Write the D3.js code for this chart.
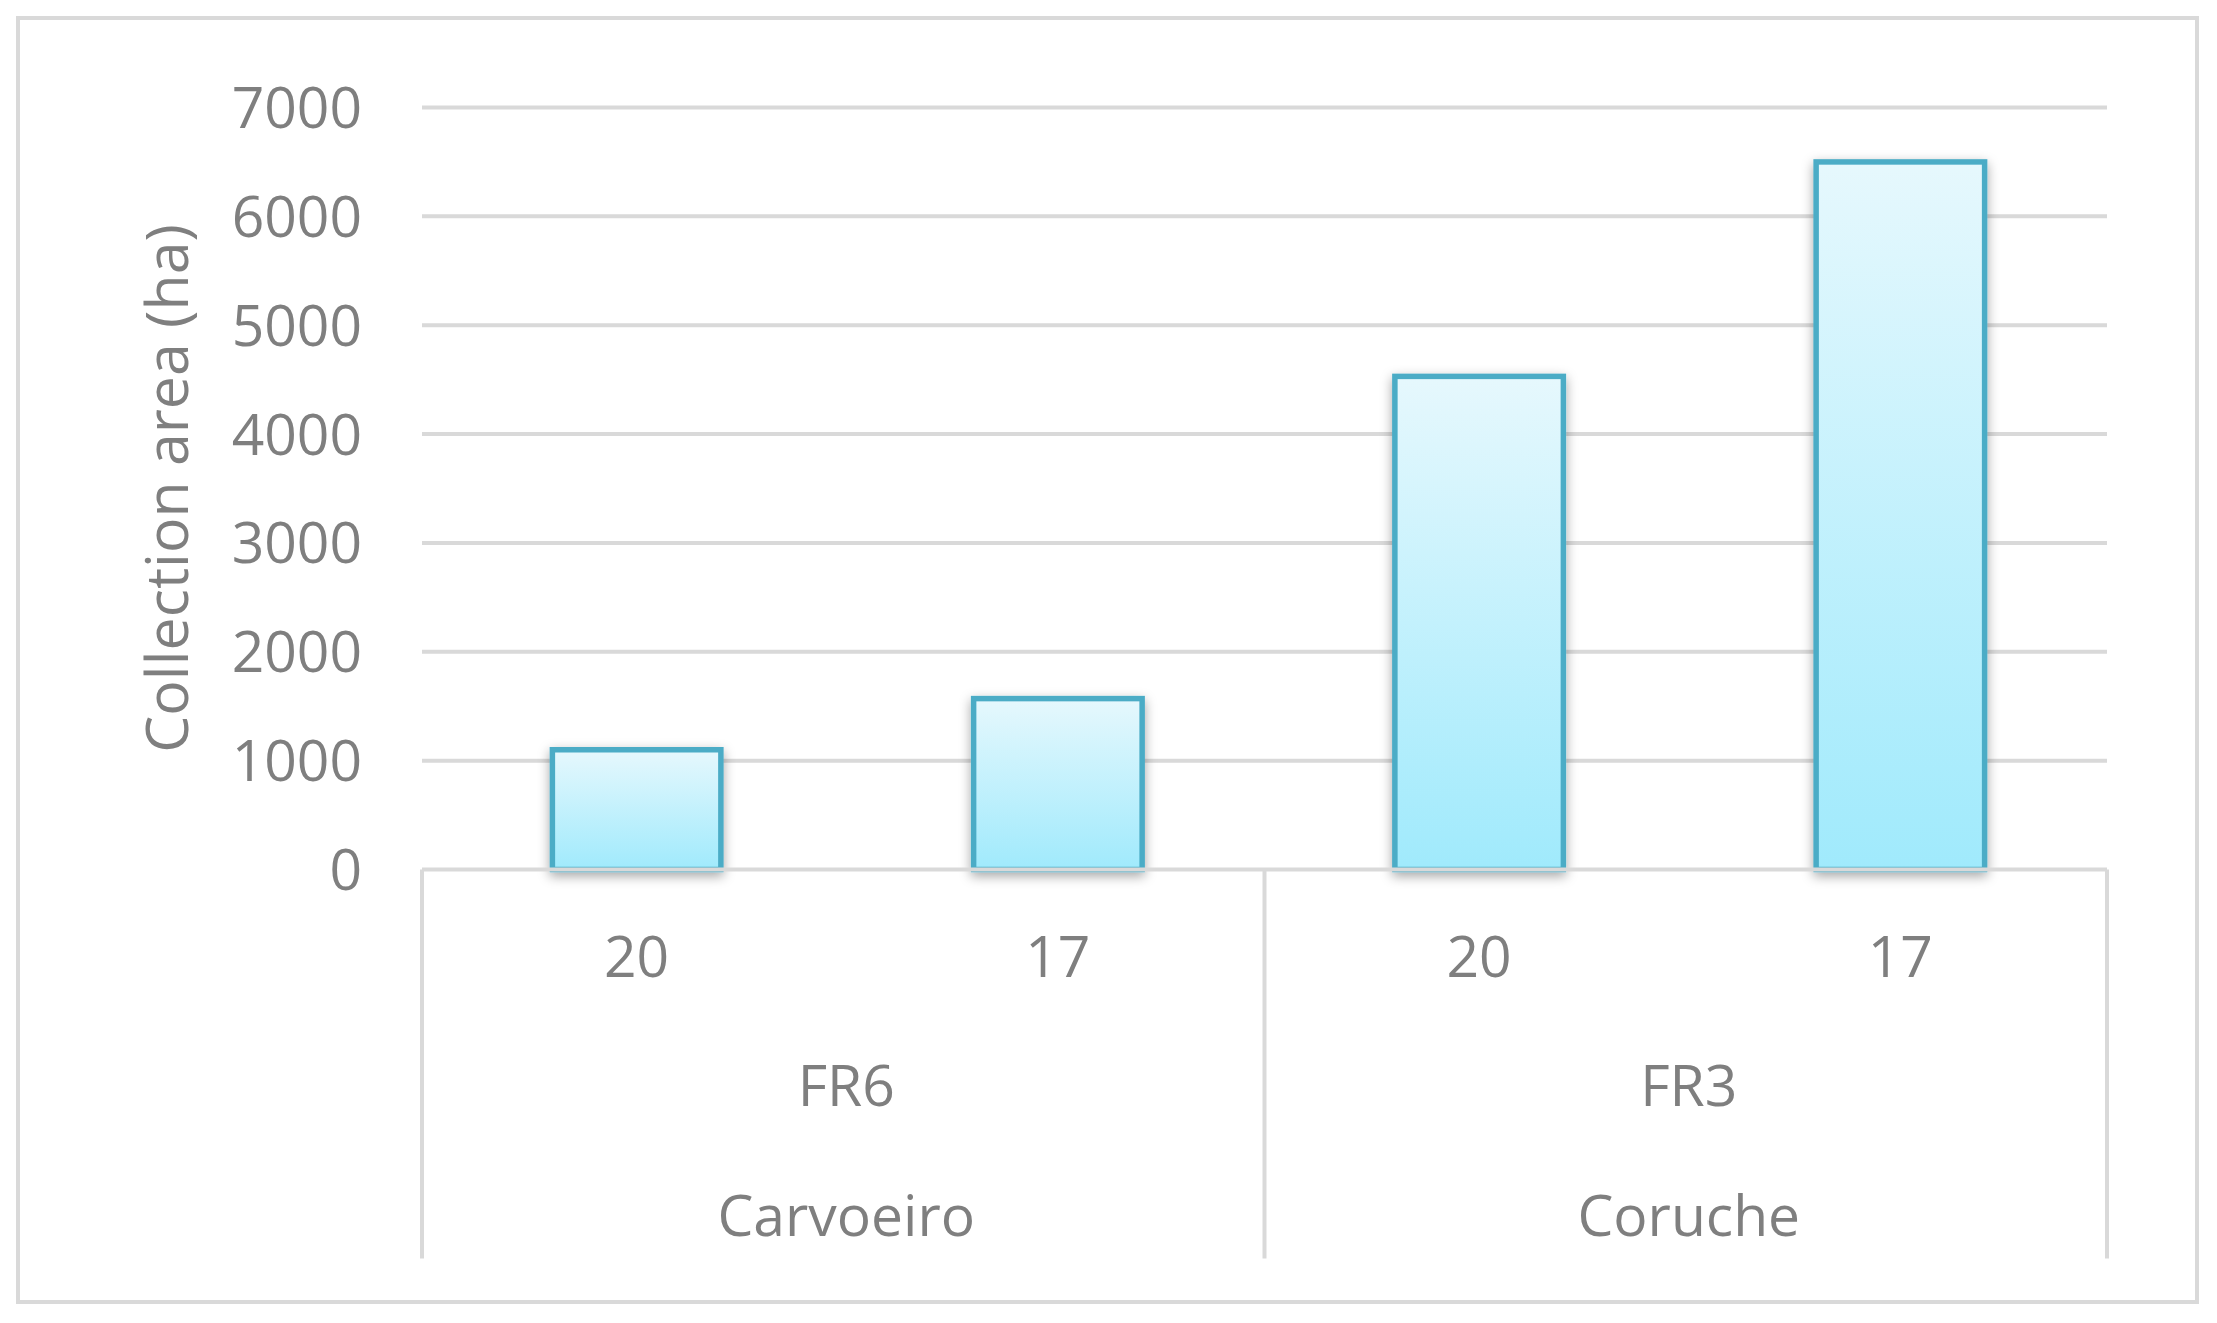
<!DOCTYPE html>
<html>
<head>
<meta charset="utf-8">
<script src="https://cdn.jsdelivr.net/npm/d3@7"></script>
<style>
  body { margin: 0; background: #fff; }
  text { font-family: "Open Sans", "Noto Sans", sans-serif; fill: #7f7f7f; }
</style>
</head>
<body>
<div id="chart"></div>
<script>
// chart data
const sites = ['Carvoeiro', 'Coruche'];
const routes = ['FR6', 'FR3'];
const barLabels = ['20', '17', '20', '17'];
const barSite = ['Carvoeiro', 'Carvoeiro', 'Coruche', 'Coruche'];
const areaValues = [1100, 1570, 4530, 6500];
const yTicks = [0, 1000, 2000, 3000, 4000, 5000, 6000, 7000];

const W = 2217, H = 1323;
const margin = {top: 107.5, right: 110, bottom: 453.5, left: 422};
const width = W - margin.left - margin.right;
const height = H - margin.top - margin.bottom;

const svg = d3.select('#chart').append('svg').attr('width', W).attr('height', H);

// outer frame
svg.append('rect')
    .attr('x', 18).attr('y', 18)
    .attr('width', W - 38).attr('height', H - 39)
    .attr('fill', 'none').attr('stroke', '#d9d9d9').attr('stroke-width', 4);

const defs = svg.append('defs');
const grad = defs.append('linearGradient').attr('id', 'barFill')
    .attr('x1', 0).attr('y1', 0).attr('x2', 0).attr('y2', 1);
grad.append('stop').attr('offset', '0%').attr('stop-color', '#e6f8fd');
grad.append('stop').attr('offset', '100%').attr('stop-color', '#a0eafc');

const shadow = defs.append('filter').attr('id', 'shadow')
    .attr('x', '-20%').attr('y', '-20%').attr('width', '140%').attr('height', '140%');
shadow.append('feDropShadow')
    .attr('dx', 0).attr('dy', 4).attr('stdDeviation', 6)
    .attr('flood-color', '#000').attr('flood-opacity', 0.35);

const g = svg.append('g').attr('transform', `translate(${margin.left},${margin.top})`);

const keys = barLabels.map((d, i) => i);
// category cells span the plot; bars sit slightly right of cell centre as in the source
const cell = d3.scaleBand().domain(keys).range([0, width]);
const x = d3.scaleBand().domain(keys).range([4, width + 4]).paddingInner(0.6).paddingOuter(0.3);
const y = d3.scaleLinear().domain([0, 7000]).range([height, 0]);

// gridlines
g.append('g')
    .selectAll('line')
    .data(yTicks.slice(1))
    .enter().append('line')
    .attr('x1', 0).attr('x2', width)
    .attr('y1', d => y(d)).attr('y2', d => y(d))
    .attr('stroke', '#d9d9d9').attr('stroke-width', 4);

// y axis labels
const yAxis = g.append('g')
    .call(d3.axisLeft(y).tickValues(yTicks).tickFormat(d3.format('d')).tickSize(0).tickPadding(60));
yAxis.select('.domain').remove();
yAxis.selectAll('text')
    .style('font-size', '57px')
    .attr('dy', '0.35em');

// y axis title
g.append('text')
    .attr('transform', `translate(${-255},${height / 2}) rotate(-90)`)
    .attr('text-anchor', 'middle')
    .attr('dy', '0.35em')
    .style('font-size', '59px')
    .text('Collection area (ha)');

// bars
g.selectAll('.bar')
    .data(areaValues)
    .enter().append('rect')
    .attr('class', 'bar')
    .attr('x', (d, i) => x(i))
    .attr('y', d => y(d))
    .attr('width', x.bandwidth())
    .attr('height', d => height - y(d))
    .attr('fill', 'url(#barFill)')
    .attr('stroke', '#4bacc6')
    .attr('stroke-width', 5.5)
    .attr('filter', 'url(#shadow)');

// category axis (3 levels)
const axisG = g.append('g').attr('transform', `translate(0,${height})`);
axisG.append('line')
    .attr('x1', 0).attr('x2', width)
    .attr('stroke', '#d9d9d9').attr('stroke-width', 4);

const siteStart = sites.map(s => barSite.indexOf(s));
const siteEnd = sites.map(s => barSite.lastIndexOf(s));
const seps = siteStart.map(i => cell(i)).concat([width]);
axisG.selectAll('.sep')
    .data(seps)
    .enter().append('line')
    .attr('class', 'sep')
    .attr('x1', d => d).attr('x2', d => d)
    .attr('y1', 0).attr('y2', 389)
    .attr('stroke', '#d9d9d9').attr('stroke-width', 4);

axisG.selectAll('.lvl1')
    .data(barLabels)
    .enter().append('text')
    .attr('class', 'lvl1')
    .attr('x', (d, i) => x(i) + x.bandwidth() / 2)
    .attr('y', 88)
    .attr('dy', '0.35em')
    .attr('text-anchor', 'middle')
    .style('font-size', '57px')
    .text(d => d);

const siteCenter = i => (cell(siteStart[i]) + cell(siteEnd[i]) + cell.bandwidth()) / 2 + 3;
axisG.selectAll('.lvl2')
    .data(routes)
    .enter().append('text')
    .attr('class', 'lvl2')
    .attr('x', (d, i) => siteCenter(i))
    .attr('y', 217)
    .attr('dy', '0.35em')
    .attr('text-anchor', 'middle')
    .style('font-size', '57px')
    .text(d => d);

axisG.selectAll('.lvl3')
    .data(sites)
    .enter().append('text')
    .attr('class', 'lvl3')
    .attr('x', (d, i) => siteCenter(i))
    .attr('y', 347)
    .attr('dy', '0.35em')
    .attr('text-anchor', 'middle')
    .style('font-size', '57px')
    .text(d => d);
</script>
</body>
</html>
